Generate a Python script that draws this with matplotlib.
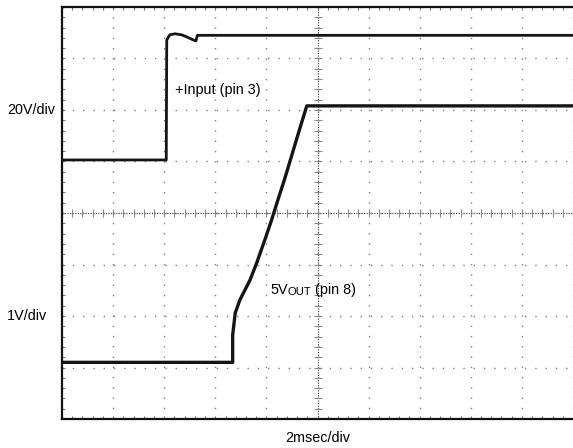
import numpy as np
import matplotlib.pyplot as plt
from matplotlib.ticker import MultipleLocator

plt.rcParams['font.family'] = ['Liberation Sans', 'DejaVu Sans']

input_t = [0.0, 2.04, 2.05, 2.11, 2.21, 2.34, 2.44, 2.57, 2.62, 2.65, 10.0]
input_v = [5.03, 5.03, 7.36, 7.46, 7.48, 7.46, 7.42, 7.36, 7.34, 7.45, 7.45]

vout_t = [0.0, 3.34, 3.34, 3.39, 3.48, 3.68, 3.81, 3.97, 4.10, 4.23, 4.36, 4.46, 4.66, 4.79, 10.0]
vout_v = [1.10, 1.10, 1.63, 2.06, 2.31, 2.70, 3.03, 3.48, 3.86, 4.27, 4.67, 5.00, 5.66, 6.08, 6.08]

n_xdiv = 10
n_ydiv = 8

fig = plt.figure(figsize=(5.73, 4.48), dpi=100)
ax = fig.add_axes([62 / 573, 29 / 448, 511 / 573, 412 / 448])
ax.set_xlim(0, n_xdiv)
ax.set_ylim(0, n_ydiv)

# graticule
ax.xaxis.set_major_locator(MultipleLocator(1))
ax.yaxis.set_major_locator(MultipleLocator(1))
ax.xaxis.set_minor_locator(MultipleLocator(0.2))
ax.yaxis.set_minor_locator(MultipleLocator(0.2))
ax.grid(True, which='major', color='#808080', linestyle=(0, (1, 6.4)), linewidth=1)
ax.tick_params(which='both', direction='in', length=2.5, width=0.8, color='#777777',
               top=True, right=False, labelbottom=False, labelleft=False)

ax.axhline(n_ydiv / 2, color='#333333', lw=0.8, ls=(0, (1, 1.3)), zorder=1)
ax.axvline(n_xdiv / 2, color='#333333', lw=0.8, ls=(0, (1, 1.3)), zorder=1)
sub_x = np.arange(0, n_xdiv + 0.01, 0.2)
sub_y = np.arange(0, n_ydiv + 0.01, 0.2)
ax.plot(sub_x, np.full(len(sub_x), n_ydiv / 2), ls='none', marker='|', ms=6, mew=0.8,
        color='#8a8a8a', zorder=1)
ax.plot(np.full(len(sub_y), n_xdiv / 2), sub_y, ls='none', marker='_', ms=6, mew=0.8,
        color='#8a8a8a', zorder=1)

for side in ['left', 'top', 'bottom']:
    ax.spines[side].set_linewidth(1.6)
    ax.spines[side].set_color('#111111')
ax.spines['right'].set_visible(False)

# traces
ax.plot(input_t, input_v, color='#151515', lw=2.0, zorder=3)
ax.plot(vout_t, vout_v, color='#151515', lw=2.4, zorder=3)

# labels
fs = 10.4
ax.text(-1.08, 6, '20V/div', fontsize=fs, va='center', ha='left')
ax.text(-1.08, 2, '1V/div', fontsize=fs, va='center', ha='left')
ax.text(5, -0.37, '2msec/div', fontsize=fs, va='center', ha='center')
ax.text(2.21, 6.39, '+Input (pin 3)', fontsize=fs, va='center', ha='left')
t1 = ax.text(4.07, 2.5, '5V', fontsize=fs, va='center', ha='left')
t2 = ax.annotate('OUT', xy=(1, 0), xycoords=t1, fontsize=fs * 0.78, va='bottom', ha='left')
ax.annotate(' (pin 8)', xy=(1, 0), xycoords=t2, fontsize=fs, va='bottom', ha='left')

fig.savefig('out.png', dpi=100)
